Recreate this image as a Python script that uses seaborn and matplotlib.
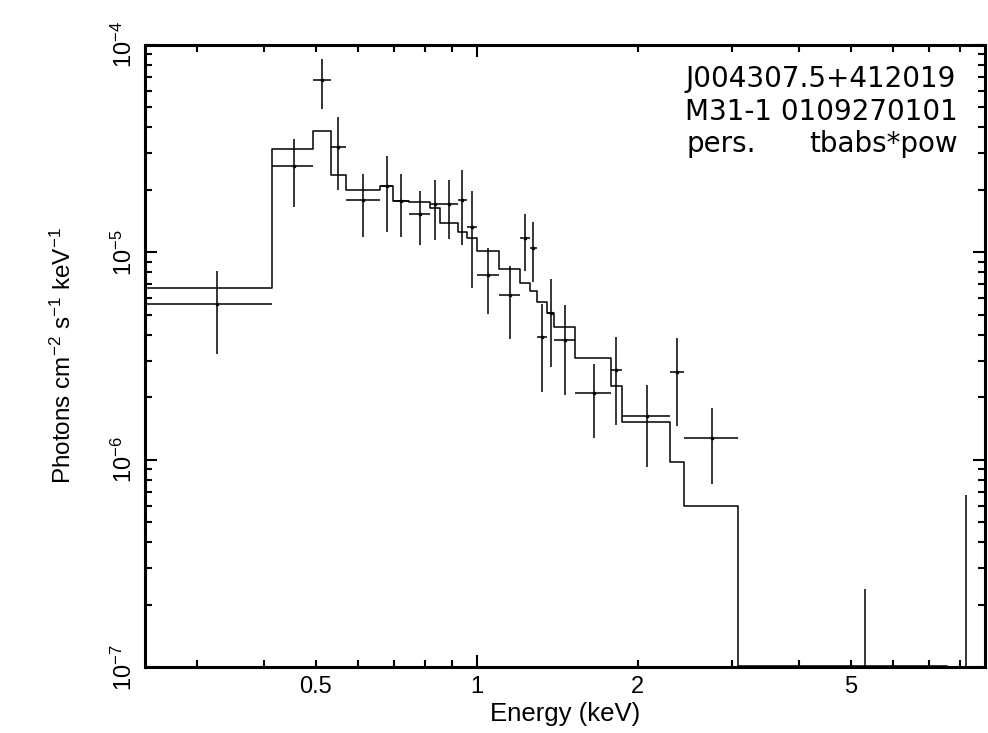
import matplotlib
matplotlib.use('Agg')
import matplotlib.pyplot as plt
import numpy as np
import seaborn as sns

# spectral bins (keV)
e_lo = [0.239, 0.414, 0.495, 0.533, 0.569, 0.659, 0.698, 0.748, 0.819, 0.852, 0.921, 0.957, 1.000,
        1.102, 1.207, 1.255, 1.298, 1.355, 1.397, 1.529, 1.779, 1.865, 2.294, 2.436, 3.073, 7.565]
e_hi = [0.414, 0.495, 0.533, 0.569, 0.659, 0.698, 0.748, 0.819, 0.852, 0.921, 0.957, 1.000, 1.102,
        1.207, 1.255, 1.298, 1.355, 1.397, 1.529, 1.779, 1.865, 2.294, 2.436, 3.073, 7.565, 8.90]
e_mid = [0.3265, 0.4545, 0.514, 0.551, 0.614, 0.6785, 0.723, 0.7835, 0.8355, 0.8865, 0.939, 0.9785, 1.051,
         1.1545, 1.231, 1.2765, 1.3265, 1.376, 1.463, 1.654, 1.822, 2.0795, 2.365, 2.7545, 5.319, 8.2325]

# unfolded data (photons cm^-2 s^-1 keV^-1) with lower / upper error bounds
flux = [5.62e-6, 2.60e-5, 6.74e-5, 3.23e-5, 1.78e-5, 2.09e-5, 1.77e-5, 1.53e-5, 1.70e-5, 1.70e-5,
        1.78e-5, 1.32e-5, 7.77e-6, 6.21e-6, 1.17e-5, 1.05e-5, 3.90e-6, 5.12e-6, 3.79e-6, 2.09e-6,
        2.70e-6, 1.62e-6, 2.64e-6, 1.27e-6, 1e-8, 1e-8]
flux_low = [3.23e-6, 1.66e-5, 4.92e-5, 2.00e-5, 1.19e-5, 1.25e-5, 1.18e-5, 1.08e-5, 1.15e-5, 1.16e-5,
            1.08e-5, 6.75e-6, 5.06e-6, 3.84e-6, 8.15e-6, 7.22e-6, 2.13e-6, 2.81e-6, 2.06e-6, 1.27e-6,
            1.48e-6, 9.27e-7, 1.46e-6, 7.68e-7, 1e-8, 1e-8]
flux_high = [8.13e-6, 3.51e-5, 8.53e-5, 4.47e-5, 2.38e-5, 2.91e-5, 2.38e-5, 1.97e-5, 2.23e-5, 2.23e-5,
             2.49e-5, 1.97e-5, 1.05e-5, 8.56e-6, 1.53e-5, 1.40e-5, 5.64e-6, 7.44e-6, 5.56e-6, 2.90e-6,
             3.91e-6, 2.30e-6, 3.87e-6, 1.78e-6, 2.39e-7, 6.77e-7]

# tbabs*pow model per bin
model = [6.71e-6, 3.15e-5, 3.84e-5, 2.35e-5, 1.99e-5, 2.09e-5, 1.77e-5, 1.74e-5, 1.63e-5, 1.39e-5,
         1.25e-5, 1.17e-5, 1.02e-5, 8.28e-6, 7.09e-6, 6.49e-6, 5.74e-6, 5.12e-6, 4.35e-6, 3.09e-6,
         2.26e-6, 1.52e-6, 9.74e-7, 5.98e-7, 1.02e-7, 5e-8]

x_major = [1]
x_major_labels = ['1']
x_minor = [0.3, 0.4, 0.5, 0.6, 0.7, 0.8, 0.9, 2, 3, 4, 5, 6, 7, 8]
x_minor_labels = ['', '', '0.5', '', '', '', '', '2', '', '', '5', '', '', '']
y_major = [1e-7, 1e-6, 1e-5, 1e-4]

sns.set_theme(style='white')
plt.rcParams['font.family'] = ['Liberation Sans', 'DejaVu Sans']
plt.rcParams['mathtext.fontset'] = 'custom'
plt.rcParams['mathtext.rm'] = 'Liberation Sans'
plt.rcParams['mathtext.it'] = 'Liberation Sans'
plt.rcParams['mathtext.default'] = 'regular'
plt.rcParams['axes.unicode_minus'] = False
plt.rcParams['text.color'] = 'black'
plt.rcParams['axes.labelcolor'] = 'black'
plt.rcParams['xtick.color'] = 'black'
plt.rcParams['ytick.color'] = 'black'

fig = plt.figure(figsize=(9.88, 7.33), dpi=100)
ax = fig.add_axes([0.1465, 0.0894, 0.8505, 0.8496])

edges = e_lo + [e_hi[-1]]
steps = model + [model[-1]]
sns.lineplot(x=edges, y=steps, drawstyle='steps-post', estimator=None, sort=False,
             color='black', lw=1.1, ax=ax)

f = np.array(flux)
xerr = [np.array(e_mid) - np.array(e_lo), np.array(e_hi) - np.array(e_mid)]
yerr = [f - np.array(flux_low), np.array(flux_high) - f]
ax.errorbar(e_mid, flux, xerr=xerr, yerr=yerr, fmt='s', ms=1.5, color='black',
            ecolor='black', elinewidth=1.1, capsize=0)

ax.set_xscale('log')
ax.set_yscale('log')
ax.set_xlim(0.2394, 8.92)
ax.set_ylim(1e-7, 1e-4)

ax.set_xticks(x_major)
ax.set_xticklabels(x_major_labels)
ax.set_xticks(x_minor, minor=True)
ax.set_xticklabels(x_minor_labels, minor=True)
ax.set_yticks(y_major)

for s in ax.spines.values():
    s.set_linewidth(2.2)
    s.set_color('black')
ax.tick_params(which='both', direction='in', top=True, right=True, bottom=True, left=True,
               color='black', labelcolor='black', labelsize=17, width=1.5)
ax.tick_params(which='major', length=8.5)
ax.tick_params(which='minor', length=5)
ax.tick_params(axis='x', which='both', pad=6)
ax.tick_params(axis='y', which='major', pad=6, labelrotation=90)
for lab in ax.get_yticklabels():
    lab.set_va('center')

ax.set_xlabel('Energy (keV)', fontsize=18.5, color='black')
ax.xaxis.set_label_coords(0.5, -0.056)
ax.set_ylabel('Photons cm$^{-2}$ s$^{-1}$ keV$^{-1}$', fontsize=17.5, color='black')
ax.yaxis.set_label_coords(-0.082, 0.5)

tfont = dict(fontsize=20, family='DejaVu Sans', color='black', va='baseline', transform=ax.transAxes)
ax.text(0.643, 0.9326, 'J004307.5+412019', ha='left', **tfont)
ax.text(0.643, 0.879, 'M31-1 0109270101', ha='left', **tfont)
ax.text(0.645, 0.828, 'pers.', ha='left', **tfont)
ax.text(0.968, 0.828, 'tbabs*pow', ha='right', **tfont)

fig.savefig('out.png', dpi=100)
